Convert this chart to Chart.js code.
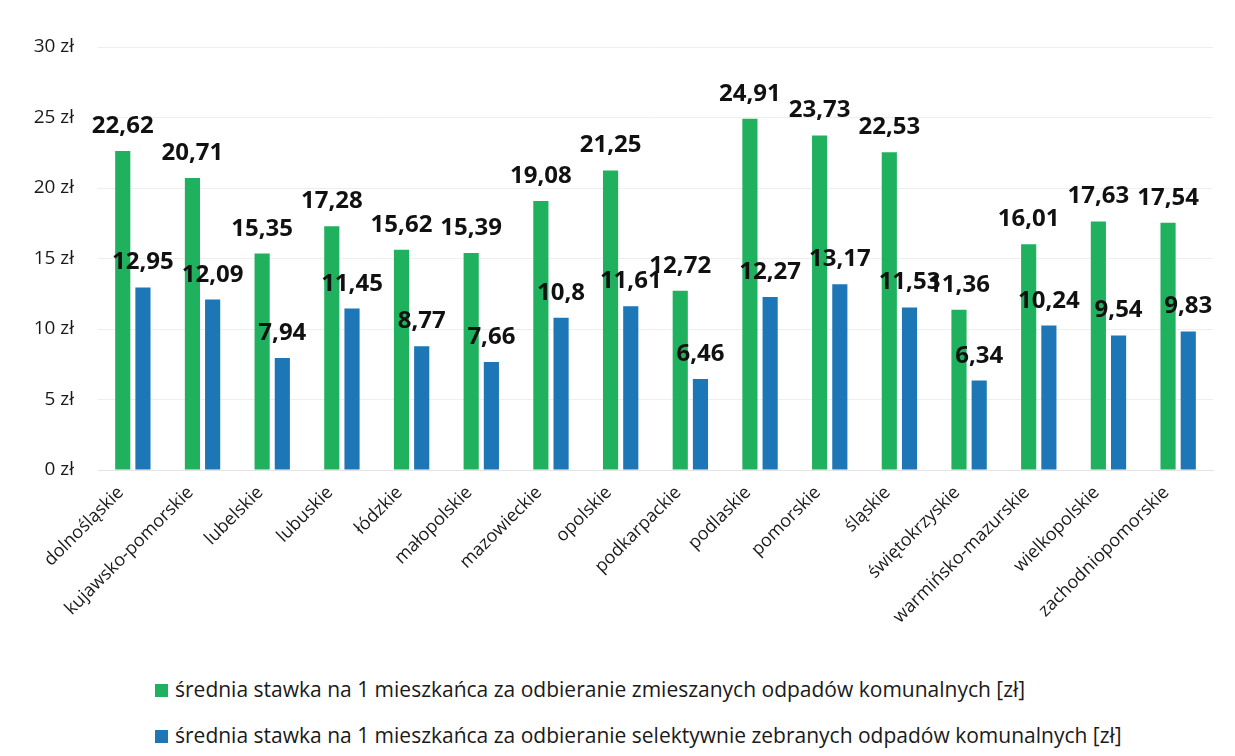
<!DOCTYPE html>
<html>
<head>
<meta charset="utf-8">
<script src="https://cdn.jsdelivr.net/npm/chart.js@4.4.1/dist/chart.umd.min.js"></script>
<style>
  html, body { margin: 0; padding: 0; background: #fff; }
  #wrap { position: relative; width: 1235px; height: 756px; }
  #chart { position: absolute; left: 0; top: 0; }
  .legend { position: absolute; left: 155px; font-family: "Open Sans", sans-serif; font-size: 21px; color: #1a1a1a; white-space: nowrap; }
  .legend span.box { display: inline-block; width: 13px; height: 13px; margin-right: 7px; vertical-align: 0px; }
</style>
</head>
<body>
<div id="wrap">
  <canvas id="chart" width="1235" height="650"></canvas>
  <div class="legend" style="top:675px"><span class="box" style="background:#20b15e"></span>średnia stawka na 1 mieszkańca za odbieranie zmieszanych odpadów komunalnych [zł]</div>
  <div class="legend" style="top:721px"><span class="box" style="background:#1d77b7"></span>średnia stawka na 1 mieszkańca za odbieranie selektywnie zebranych odpadów komunalnych [zł]</div>
</div>
<script>
const regions = [
  "dolnośląskie", "kujawsko-pomorskie", "lubelskie", "lubuskie", "łódzkie",
  "małopolskie", "mazowieckie", "opolskie", "podkarpackie", "podlaskie",
  "pomorskie", "śląskie", "świętokrzyskie", "warmińsko-mazurskie",
  "wielkopolskie", "zachodniopomorskie",
];
const mixedRate = [22.62, 20.71, 15.35, 17.28, 15.62, 15.39, 19.08, 21.25, 12.72, 24.91, 23.73, 22.53, 11.36, 16.01, 17.63, 17.54];
const selectiveRate = [12.95, 12.09, 7.94, 11.45, 8.77, 7.66, 10.8, 11.61, 6.46, 12.27, 13.17, 11.53, 6.34, 10.24, 9.54, 9.83];
const yTicks = [0, 5, 10, 15, 20, 25, 30];

function formatPl(v) {
  return String(v).replace(".", ",");
}

const valueLabels = {
  id: "value-labels",
  afterDatasetsDraw(chart) {
    const { ctx } = chart;
    ctx.save();
    ctx.font = "bold 24px 'Open Sans'";
    ctx.fillStyle = "#111";
    ctx.textAlign = "center";
    ctx.textBaseline = "alphabetic";
    chart.data.datasets.forEach((dataset, di) => {
      chart.getDatasetMeta(di).data.forEach((bar, i) => {
        ctx.fillText(formatPl(dataset.data[i]), bar.x, bar.y - 18);
      });
    });
    ctx.restore();
  },
};

new Chart(document.getElementById("chart"), {
  type: "bar",
  data: {
    labels: regions,
    datasets: [
      { label: "zmieszane", data: mixedRate, backgroundColor: "#20b15e", categoryPercentage: 0.58, barPercentage: 0.75 },
      { label: "selektywne", data: selectiveRate, backgroundColor: "#1d77b7", categoryPercentage: 0.58, barPercentage: 0.75 },
    ],
  },
  options: {
    responsive: false,
    animation: false,
    layout: { padding: { top: 47, right: 22, left: 0, bottom: 0 } },
    plugins: {
      legend: { display: false },
      tooltip: { enabled: false },
    },
    scales: {
      x: {
        grid: { display: false },
        border: { color: "#e4e4e4" },
        ticks: {
          maxRotation: 45,
          minRotation: 45,
          padding: 4,
          labelOffset: -12,
          color: "#1a1a1a",
          font: { family: "Open Sans", size: 18 },
        },
        afterFit(scale) { scale.height = 180; },
      },
      y: {
        min: 0,
        max: 30,
        afterBuildTicks(scale) { scale.ticks = yTicks.map((v) => ({ value: v })); },
        grid: { color: "#eeeeee", drawTicks: false },
        border: { display: false },
        ticks: {
          padding: 24,
          color: "#1a1a1a",
          font: { family: "Open Sans", size: 19 },
          callback: (v) => `${v} zł`,
        },
        afterFit(scale) { scale.width = 98; },
      },
    },
  },
  plugins: [valueLabels],
});
</script>
</body>
</html>
